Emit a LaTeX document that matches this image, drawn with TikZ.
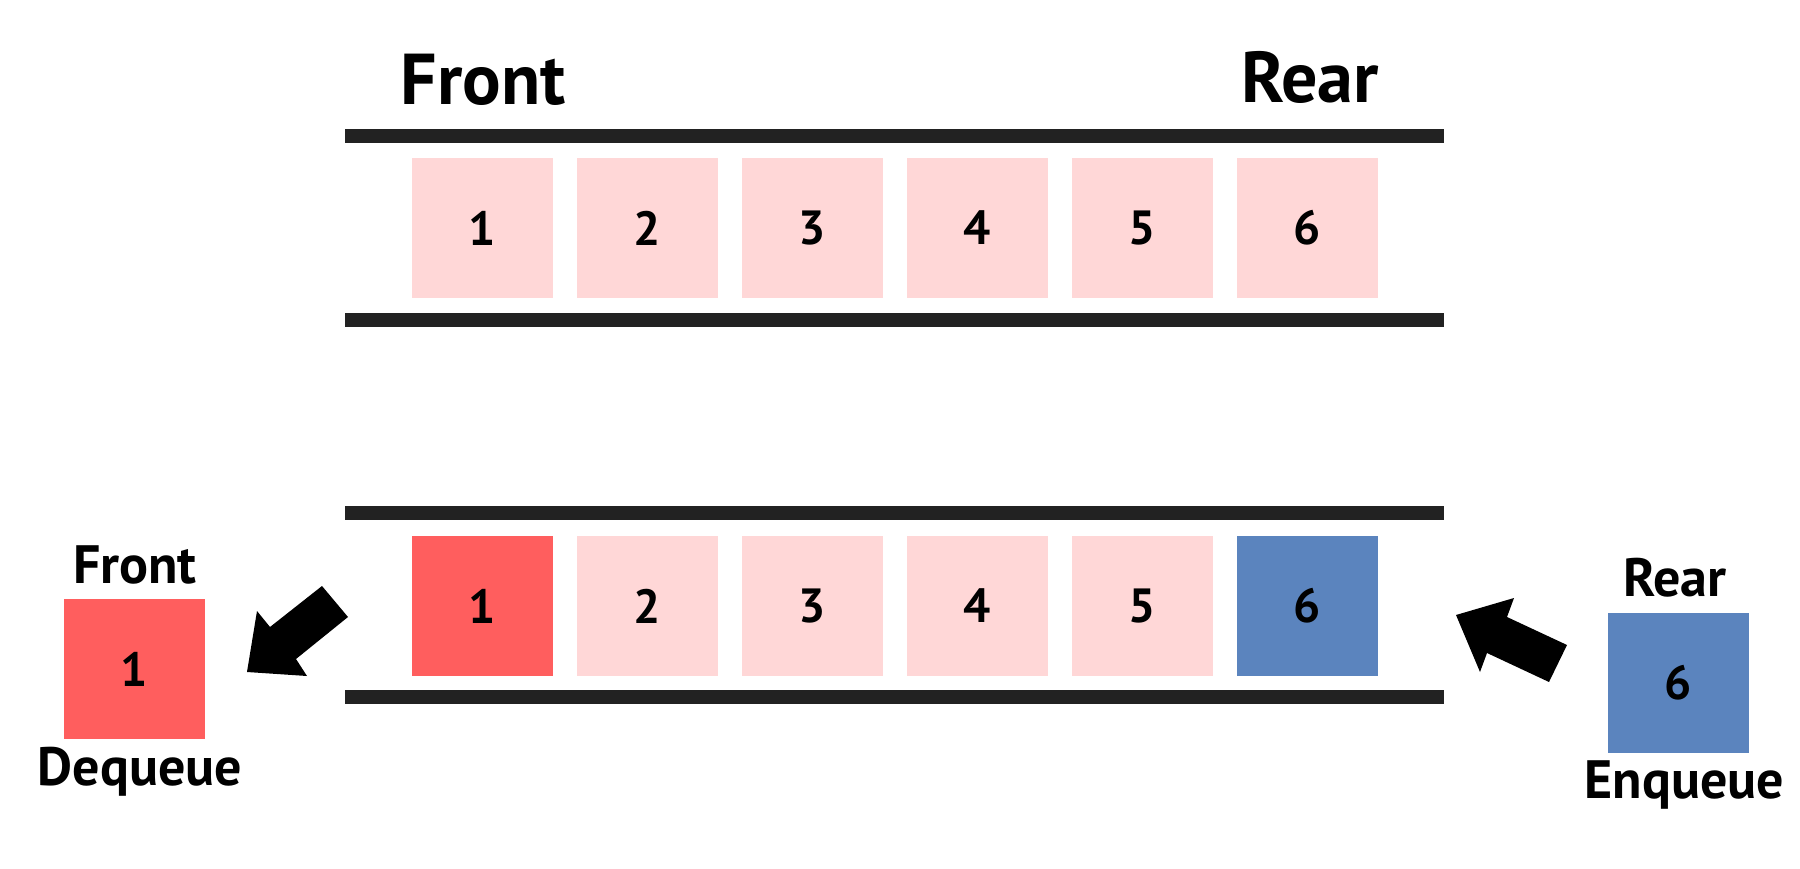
\documentclass[tikz,border=0pt]{standalone}
\usepackage{fontspec}
\setmainfont{PT Sans}
\definecolor{pinkc}{HTML}{FFD7D7}
\definecolor{redc}{HTML}{FF5E5E}
\definecolor{bluec}{HTML}{5B84BE}
\definecolor{railc}{HTML}{222222}
\begin{document}
\begin{tikzpicture}[x=1pt,y=-1pt,
  cell/.style={draw=none,fill=pinkc,minimum width=141pt,minimum height=140pt,inner sep=0pt,
     font=\fontsize{48}{48}\selectfont\bfseries},
  bigl/.style={inner sep=0pt,anchor=base,font=\fontsize{72}{72}\selectfont\bfseries},
  smalll/.style={inner sep=0pt,anchor=base,font=\fontsize{54}{54}\selectfont\bfseries},
  rail/.style={railc,line width=14pt},
  blk/.style={fill=black,draw=none}]
\useasboundingbox (0,0) rectangle (1800,869);
% rails
\coordinate (r1a) at (345,136); \coordinate (r1b) at (1444,136);
\coordinate (r2a) at (345,320); \coordinate (r2b) at (1444,320);
\coordinate (r3a) at (345,513); \coordinate (r3b) at (1444,513);
\coordinate (r4a) at (345,697); \coordinate (r4b) at (1444,697);
\draw[rail] (r1a) -- (r1b);
\draw[rail] (r2a) -- (r2b);
\draw[rail] (r3a) -- (r3b);
\draw[rail] (r4a) -- (r4b);
% top cells
\foreach \i in {1,...,6}{
  \node[cell] (t\i) at ({482.5+165*(\i-1)},228) {\i};
}
% bottom cells
\node[cell,fill=redc] (b1) at (482.5,606) {1};
\foreach \i in {2,...,5}{
  \node[cell] (b\i) at ({482.5+165*(\i-1)},606) {\i};
}
\node[cell,fill=bluec] (b6) at (1307.5,606) {6};
% top labels
\node[bigl] (front) at (483,105) {Front};
\node[bigl] (rear) at (1310,103) {Rear};
% dequeue
\node[cell,fill=redc] (dq) at (134.5,669) {1};
\node[smalll] (dqf) at (135,583) {Front};
\node[smalll] (dql) at (140,785) {Dequeue};
% enqueue
\node[cell,fill=bluec] (eq) at (1678.5,682.5) {6};
\node[smalll] (eqr) at (1675,596) {Rear};
\node[smalll] (eql) at (1684.5,798) {Enqueue};
% arrows
\fill[blk] (247,672) -- (257,611) -- (270,627) -- (322,586) -- (348,617) -- (296,659) -- (307,676) -- cycle;
\fill[blk] (1456,615) -- (1514,598) -- (1507,617) -- (1567,645) -- (1549,682) -- (1487,653) -- (1480,672) -- cycle;
\end{tikzpicture}
\end{document}
